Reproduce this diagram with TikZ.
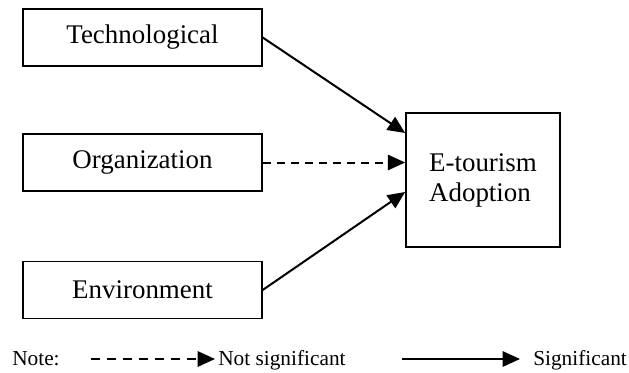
\documentclass[tikz,border=0pt]{standalone}
\usepackage{fontspec}
\setmainfont{Liberation Serif}
\usetikzlibrary{arrows.meta,calc}
\begin{document}
\begin{tikzpicture}[x=0.75pt,y=-0.75pt,
  box/.style={draw,line width=1.3pt,minimum width=179pt,minimum height=42.75pt,inner sep=0pt,font=\fontsize{20.2}{22.5}\selectfont},
  bigbox/.style={draw,line width=1.3pt,minimum width=115.5pt,minimum height=100.5pt,inner sep=0pt,align=left,font=\fontsize{20.2}{22.5}\selectfont},
  conn/.style={line width=1.5pt,-{Triangle[length=13pt,width=11.5pt]}},
  dconn/.style={conn,dash pattern=on 6pt off 4.5pt},
  note/.style={font=\fontsize{16}{18}\selectfont,inner sep=0pt,anchor=base west}]
\useasboundingbox (0,0) rectangle (629,372);
\node[box] (tech) at (142.5,37.5) {Technological};
\node[box] (org) at (142.5,162.5) {Organization};
\node[box] (env) at (142.5,290) {Environment};
\node[bigbox] (eto) at (483,180) {E-tourism\\Adoption};
\coordinate (e1) at (eto.west |- 0,133);
\coordinate (e3) at (eto.west |- 0,192);
\draw[conn] (tech.east) -- (e1);
\draw[dconn] (org.east) -- (org.east -| eto.west);
\draw[conn] (env.east) -- (e3);
\node[note] (nt) at (12,365) {Note:};
\coordinate (d1) at (91,359);
\coordinate (d2) at (215,359);
\draw[dconn,dash pattern=on 7pt off 5pt] (d1) -- (d2);
\node[note] (ns) at (218,365) {Not significant};
\coordinate (s1) at (402,359);
\coordinate (s2) at (520,359);
\draw[conn] (s1) -- (s2);
\node[note] (sg) at (533,365) {Significant};
\end{tikzpicture}
\end{document}
